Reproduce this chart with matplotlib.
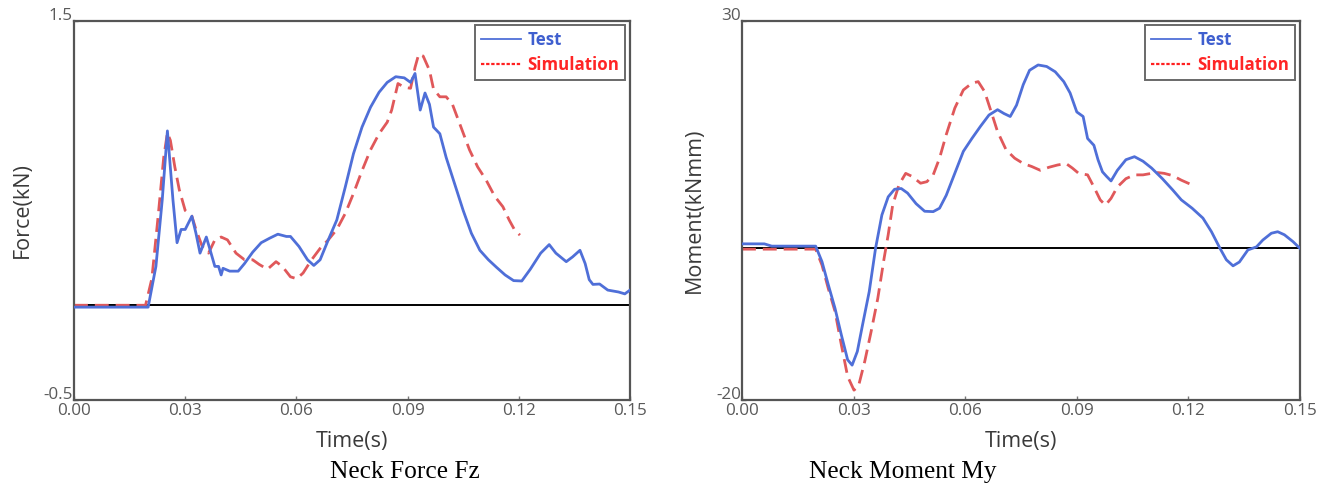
import matplotlib
matplotlib.use("Agg")
import matplotlib.pyplot as plt
from matplotlib.lines import Line2D
import matplotlib.transforms as mtransforms

# ---------------- Data: Neck Force Fz ----------------
fz_test_t = [0.000, 0.010, 0.0200, 0.0221, 0.0238, 0.0252, 0.0267, 0.0278, 0.0289, 0.0300,
             0.0318, 0.0329, 0.0340, 0.0357, 0.0369, 0.0380, 0.0390, 0.0397, 0.0402, 0.0420,
             0.0443, 0.0460, 0.0482, 0.0505, 0.0528, 0.0550, 0.0573, 0.0584, 0.0607, 0.0630,
             0.0647, 0.0664, 0.0686, 0.0709, 0.0732, 0.0754, 0.0777, 0.0800, 0.0823, 0.0845,
             0.0868, 0.0891, 0.0908, 0.0920, 0.0934, 0.0947, 0.0959, 0.0970, 0.0987, 0.1004,
             0.1027, 0.1050, 0.1072, 0.1095, 0.1118, 0.1140, 0.1163, 0.1186, 0.1208, 0.1231,
             0.1259, 0.1282, 0.1300, 0.1328, 0.1345, 0.1365, 0.1379, 0.1390, 0.1400, 0.1418,
             0.1440, 0.1469, 0.1486, 0.1500]
fz_test_v = [-0.01, -0.01, -0.01, 0.205, 0.555, 0.92, 0.555, 0.33, 0.40, 0.40,
             0.47, 0.38, 0.275, 0.36, 0.28, 0.205, 0.205, 0.16, 0.195, 0.18,
             0.18, 0.22, 0.28, 0.33, 0.354, 0.375, 0.363, 0.363, 0.31, 0.24,
             0.21, 0.24, 0.345, 0.45, 0.625, 0.80, 0.94, 1.045, 1.124, 1.176,
             1.206, 1.20, 1.176, 1.223, 1.03, 1.12, 1.06, 0.94, 0.905, 0.78,
             0.64, 0.50, 0.38, 0.29, 0.24, 0.20, 0.16, 0.13, 0.128, 0.19,
             0.275, 0.32, 0.275, 0.23, 0.255, 0.29, 0.22, 0.135, 0.11, 0.112,
             0.08, 0.07, 0.06, 0.08]

fz_sim_t = [0.000, 0.0193, 0.0210, 0.0227, 0.0242, 0.0252, 0.0260, 0.0272, 0.0284, 0.0300,
            0.0318, 0.0329, 0.0346, 0.0363, 0.0380, 0.0397, 0.0414, 0.0437, 0.0460, 0.0482,
            0.0500, 0.0522, 0.0545, 0.0562, 0.0584, 0.0601, 0.0618, 0.0641, 0.0664, 0.0686,
            0.0709, 0.0732, 0.0754, 0.0777, 0.0800, 0.0823, 0.0845, 0.0857, 0.0874, 0.0891,
            0.0908, 0.0920, 0.0930, 0.0942, 0.0959, 0.0970, 0.0987, 0.1004, 0.1021, 0.1044,
            0.1067, 0.1089, 0.1112, 0.1135, 0.1157, 0.1174, 0.1188, 0.1203]
fz_sim_v = [0.0, 0.0, 0.14, 0.47, 0.78, 0.91, 0.87, 0.73, 0.61, 0.50,
            0.47, 0.40, 0.31, 0.275, 0.345, 0.36, 0.345, 0.275, 0.24, 0.24,
            0.215, 0.19, 0.23, 0.205, 0.15, 0.14, 0.17, 0.24, 0.30, 0.345,
            0.40, 0.485, 0.59, 0.71, 0.82, 0.905, 0.966, 1.03, 1.17, 1.15,
            1.145, 1.255, 1.325, 1.315, 1.24, 1.14, 1.10, 1.10, 1.06, 0.94,
            0.82, 0.73, 0.66, 0.575, 0.52, 0.45, 0.40, 0.37]

# ---------------- Data: Neck Moment My ----------------
my_test_t = [0.000, 0.006, 0.0080, 0.0198, 0.0215, 0.0232, 0.0250, 0.0267, 0.0284, 0.0296,
             0.0310, 0.0324, 0.0342, 0.0359, 0.0376, 0.0393, 0.0410, 0.0428, 0.0445, 0.0468,
             0.0491, 0.0514, 0.0531, 0.0549, 0.0572, 0.0595, 0.0618, 0.0641, 0.0664, 0.0687,
             0.0704, 0.0721, 0.0738, 0.0756, 0.0773, 0.0796, 0.0819, 0.0842, 0.0865, 0.0882,
             0.0900, 0.0917, 0.0929, 0.0946, 0.0957, 0.0969, 0.0980, 0.0992, 0.1009, 0.1032,
             0.1055, 0.1078, 0.1101, 0.1130, 0.1158, 0.1181, 0.1210, 0.1239, 0.1262, 0.1285,
             0.1302, 0.1320, 0.1337, 0.1360, 0.1383, 0.1400, 0.1423, 0.1440, 0.1458, 0.1481,
             0.1500]
my_test_v = [0.6, 0.6, 0.3, 0.3, -1.75, -4.8, -7.9, -11.4, -14.7, -15.4,
             -13.6, -10.1, -5.7, 0.0, 4.4, 6.8, 7.8, 7.9, 7.3, 5.9,
             4.9, 4.85, 5.3, 7.0, 9.9, 12.8, 14.5, 16.1, 17.6, 18.3,
             17.8, 17.4, 18.9, 21.6, 23.5, 24.2, 24.0, 23.3, 22.0, 20.5,
             18.0, 17.4, 14.5, 13.6, 11.7, 10.1, 9.5, 8.9, 10.3, 11.7,
             12.1, 11.5, 10.6, 9.2, 7.7, 6.4, 5.3, 4.0, 2.2, 0.0,
             -1.5, -2.3, -1.8, -0.2, 0.2, 1.1, 2.0, 2.2, 1.8, 0.9,
             0.0]

my_sim_t = [0.000, 0.0198, 0.0215, 0.0232, 0.0250, 0.0267, 0.0284, 0.0301, 0.0313, 0.0330,
            0.0347, 0.0365, 0.0382, 0.0393, 0.0405, 0.0422, 0.0440, 0.0457, 0.0480, 0.0497,
            0.0514, 0.0531, 0.0549, 0.0572, 0.0595, 0.0618, 0.0635, 0.0652, 0.0670, 0.0687,
            0.0710, 0.0733, 0.0756, 0.0779, 0.0802, 0.0825, 0.0848, 0.0871, 0.0888, 0.0905,
            0.0929, 0.0946, 0.0963, 0.0977, 0.0992, 0.1009, 0.1032, 0.1055, 0.1078, 0.1101,
            0.1118, 0.1135, 0.1158, 0.1181, 0.1204]
my_sim_v = [-0.1, -0.1, -2.2, -5.3, -8.3, -12.7, -16.9, -18.7, -18.2, -14.9,
            -11.0, -6.6, -1.3, 1.8, 5.7, 8.4, 9.9, 9.5, 8.6, 8.8,
            9.7, 11.9, 15.0, 18.5, 20.9, 21.8, 22.0, 20.7, 18.0, 15.4,
            13.0, 11.9, 11.2, 10.8, 10.3, 10.7, 11.0, 11.2, 10.6, 9.9,
            9.7, 8.1, 6.4, 5.7, 6.6, 8.1, 9.2, 9.7, 9.7, 9.9,
            10.0, 9.9, 9.6, 9.0, 8.5]

x_ticks = [0.00, 0.03, 0.06, 0.09, 0.12, 0.15]
x_tick_labels = ["0.00", "0.03", "0.06", "0.09", "0.12", "0.15"]
fz_limits = [-0.5, 1.5]
my_limits = [-20, 30]
series_names = ["Test", "Simulation"]

BLUE = "#4f6fd8"
RED = "#e0585a"
TICK_GREY = "#5a5a5a"
LABEL_GREY = "#3a3a3a"

plt.rcParams['font.family'] = ['Open Sans', 'DejaVu Sans']

fig = plt.figure(figsize=(13.32, 4.88), dpi=100)
W, H = 1332.0, 488.0


def make_axes(l, r, t, b):
    return fig.add_axes([l / W, 1 - b / H, (r - l) / W, (b - t) / H])


def style(ax, ylim, ylabel, caption, cap_x, ylabelpad):
    ax.set_xlim(0, 0.15)
    ax.set_ylim(*ylim)
    ax.set_xticks(x_ticks)
    ax.set_xticklabels(x_tick_labels)
    ax.set_yticks(ylim)
    ax.set_yticklabels([("%g" % v) for v in ylim])
    ax.tick_params(axis='both', direction='in', length=3, width=1, colors='#777777',
                   labelcolor=TICK_GREY, labelsize=12.3)
    ax.tick_params(axis='x', pad=2.5)
    ax.tick_params(axis='y', pad=0)
    # nudge y tick labels slightly up so the bottom label clears the x labels
    offset = mtransforms.ScaledTranslation(-1 / 100.0, 5 / 100.0, fig.dpi_scale_trans)
    for lab in ax.get_yticklabels():
        lab.set_verticalalignment('center')
        lab.set_transform(lab.get_transform() + offset)
    for s in ax.spines.values():
        s.set_color('#555555')
        s.set_linewidth(1.6)
    ax.set_xlabel("Time(s)", fontsize=15.5, color=LABEL_GREY, labelpad=8)
    ax.set_ylabel(ylabel, fontsize=15.5, color=LABEL_GREY, labelpad=ylabelpad)
    ax.axhline(0, color='black', lw=1.4, zorder=1)
    fig.text(cap_x / W, 1 - 472 / H, caption, family='Liberation Serif', fontsize=18.3,
             color='black', ha='center', va='center')
    handles = [Line2D([], [], color=BLUE, lw=1.3, ls='-'),
               Line2D([], [], color='#ff2020', lw=1.6, ls=(0, (1.5, 0.8)))]
    leg = ax.legend(handles, series_names, loc='upper right', bbox_to_anchor=(0.991, 0.989),
                    borderaxespad=0, frameon=True, fancybox=False, handlelength=2.4,
                    handletextpad=0.35, borderpad=0.35, labelspacing=0.4,
                    prop={'weight': 'bold', 'size': 12.2, 'family': 'Open Sans'})
    leg.get_frame().set_edgecolor('#444444')
    leg.get_frame().set_linewidth(1.4)
    texts = leg.get_texts()
    texts[0].set_color('#3f5fcf')
    texts[1].set_color('#ff2525')


ax1 = make_axes(74, 630, 21, 400)
ax1.plot(fz_test_t, fz_test_v, color=BLUE, lw=2.0, zorder=3, solid_joinstyle='round')
ax1.plot(fz_sim_t, fz_sim_v, color=RED, lw=2.0, ls=(0, (5, 2.5)), zorder=2)
style(ax1, fz_limits, "Force(kN)", "Neck Force Fz", 405, 8)

ax2 = make_axes(742, 1300, 21, 400)
ax2.plot(my_test_t, my_test_v, color=BLUE, lw=2.0, zorder=3, solid_joinstyle='round')
ax2.plot(my_sim_t, my_sim_v, color=RED, lw=2.0, ls=(0, (5, 2.5)), zorder=2)
style(ax2, my_limits, "Moment(kNmm)", "Neck Moment My", 903, 8)

fig.savefig("out.png", dpi=100)
